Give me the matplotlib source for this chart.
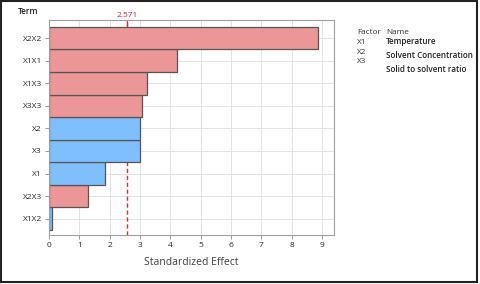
import matplotlib
matplotlib.use("Agg")
import matplotlib.pyplot as plt
from matplotlib.patches import Rectangle

terms = ["X1X2", "X2X3", "X1", "X3", "X2", "X3X3", "X1X3", "X1X1", "X2X2"]
effects = [0.11, 1.28, 1.86, 2.99, 3.01, 3.06, 3.23, 4.21, 8.88]
positive = [False, True, False, False, False, True, True, True, True]
critical = 2.571
xticks = list(range(10))
factors = ["X1", "X2", "X3"]
names = ["Temperature", "Solvent Concentration", "Solid to solvent ratio"]

RED = "#EC9797"
BLUE = "#80BFFF"
EDGE = "#555555"

plt.rcParams["font.family"] = ["Open Sans", "DejaVu Sans"]

fig = plt.figure(figsize=(4.8, 2.84), dpi=100)
W, H = 480, 284
ax = fig.add_axes([49 / W, 1 - 235 / H, (334 - 49) / W, (235 - 20) / H])

ypos = list(range(len(terms)))
colors = [RED if p else BLUE for p in positive]
ax.axvline(critical, color="#E8282B", linestyle=(0, (3, 2)), linewidth=1.0, zorder=1)
ax.barh(ypos, effects, height=1.0, color=colors, edgecolor=EDGE, linewidth=0.9, zorder=2)

ax.set_xlim(0, 9.4)
ax.set_ylim(-0.72, 8.8)
ax.set_xticks(xticks)
ax.set_xticklabels([str(t) for t in xticks], fontsize=6, color="#2a2a2a")
ax.set_yticks(ypos)
ax.set_yticklabels(terms, fontsize=6, color="#2a2a2a")
ax.tick_params(axis="both", length=3, width=0.6, color="#888888", pad=2)
ax.grid(True, color="#E3E3E3", linewidth=0.7, zorder=0)
ax.set_axisbelow(True)
for s in ax.spines.values():
    s.set_color("#A0A0A0")
    s.set_linewidth(0.8)

# critical value marker on top
sec = ax.secondary_xaxis("top")
sec.set_xticks([critical])
sec.set_xticklabels(["2.571"], fontsize=6, color="#C8283A")
sec.tick_params(axis="x", direction="in", length=4, width=0.9, color="#E8282B", pad=1)
sec.spines["top"].set_visible(False)

ax.set_xlabel("Standardized Effect", fontsize=7.5, color="#404040", labelpad=6)

fig.text(18 / W, 1 - 12 / H, "Term", fontsize=6, color="#222222", ha="left", va="center", fontweight="semibold")

# factor legend
fs = 5.9
fig.text(357 / W, 1 - 32 / H, "Factor", fontsize=fs, color="#333333", va="center")
fig.text(386 / W, 1 - 32 / H, "Name", fontsize=fs, color="#333333", va="center")
fy = [42, 52, 62]
ny = [41, 55, 70]
for f, n, a, b in zip(factors, names, fy, ny):
    fig.text(357 / W, 1 - a / H, f, fontsize=fs, color="#333333", va="center")
    fig.text(386 / W, 1 - b / H, n, fontsize=fs, color="#222222", va="center", fontweight="semibold")

fig.patches.append(Rectangle((1 / W, 2 / H), 476 / W, 281 / H, transform=fig.transFigure,
                             fill=False, edgecolor="#222222", linewidth=1.5))

fig.savefig("out.png", dpi=100)
